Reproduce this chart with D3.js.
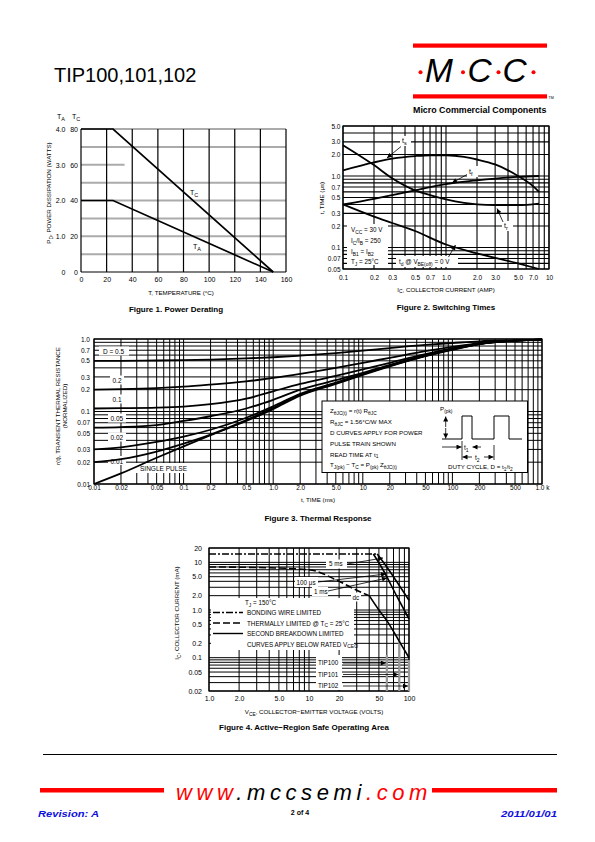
<!DOCTYPE html>
<html><head><meta charset="utf-8">
<script src="https://cdn.jsdelivr.net/npm/d3@7"></script>
<style>
body{margin:0;background:#fff}
svg{display:block}
text{font-family:"Liberation Sans",Arial,Helvetica,sans-serif}
</style>
</head><body>
<svg id="page" width="595" height="842" viewBox="0 0 595 842"></svg>
<script>
// ================= DATA =================
// Figure 1 – Power derating
const f1Temp = [0, 25, 150];
const f1PdTC = [80, 80, 0];      // watts, TC scale
const f1PdTA = [2.0, 2.0, 0];    // watts, TA scale
const f1XTicks = [0, 20, 40, 60, 80, 100, 120, 140, 160];
const f1YTicksTA = [0, 1, 2, 3, 4];
const f1YTicksTC = [0, 20, 40, 60, 80];
const f1HGrid = [0.5, 1.0, 1.5, 2.0, 2.5, 3.5, 4.0];

// Figure 2 – Switching times
const f2IcTs = [0.1, 0.2, 0.3, 0.5, 0.7, 1.0, 1.5, 2.0, 3.0, 5.0, 7.0, 8.0];
const f2Ts   = [1.2, 1.55, 1.75, 1.9, 1.95, 1.95, 1.85, 1.7, 1.45, 1.0, 0.72, 0.6];
const f2IcTr = [0.1, 0.2, 0.3, 0.5, 0.7, 1.0, 1.5, 2.0, 3.0, 5.0, 8.0];
const f2Tr   = [2.7, 1.42, 0.93, 0.63, 0.54, 0.47, 0.42, 0.4, 0.39, 0.39, 0.41];
const f2IcTf = [0.1, 0.2, 0.3, 0.5, 0.7, 1.0, 2.0, 3.0, 5.0, 8.0];
const f2Tf   = [0.4, 0.48, 0.54, 0.63, 0.7, 0.77, 0.87, 0.92, 0.97, 1.0];
const f2IcTd = [0.1, 0.2, 0.3, 0.5, 1.0, 2.0, 5.0, 8.0];
const f2Td   = [0.4, 0.27, 0.22, 0.17, 0.11, 0.083, 0.06, 0.05];
const f2XTicks = [0.1, 0.2, 0.3, 0.5, 0.7, 1, 2, 3, 5, 7, 10];
const f2XLabels = ["0.1","0.2","0.3","0.5","0.7","1.0","2.0","3.0","5.0","7.0","10"];
const f2YTicks = [0.05, 0.07, 0.1, 0.2, 0.3, 0.5, 0.7, 1, 2, 3, 5];
const f2YLabels = ["0.05","0.07","0.1","0.2","0.3","0.5","0.7","1.0","2.0","3.0","5.0"];

// Figure 3 – Thermal response
const f3Time = [0.01, 0.02, 0.05, 0.1, 0.2, 0.5, 1, 2, 5, 10, 20, 50, 100, 200, 500, 1000];
const f3D05  = [0.5, 0.5, 0.505, 0.51, 0.52, 0.54, 0.56, 0.59, 0.64, 0.69, 0.75, 0.83, 0.88, 0.93, 0.96, 0.98];
const f3D02  = [0.2, 0.203, 0.21, 0.22, 0.235, 0.26, 0.29, 0.33, 0.4, 0.47, 0.55, 0.68, 0.78, 0.88, 0.95, 0.98];
const f3D01  = [0.11, 0.111, 0.113, 0.117, 0.126, 0.15, 0.19, 0.24, 0.31, 0.38, 0.47, 0.62, 0.74, 0.86, 0.95, 0.98];
const f3D005 = [0.06, 0.061, 0.065, 0.074, 0.086, 0.11, 0.145, 0.2, 0.27, 0.34, 0.44, 0.6, 0.73, 0.86, 0.95, 0.98];
const f3D002 = [0.03, 0.032, 0.038, 0.045, 0.056, 0.082, 0.118, 0.175, 0.25, 0.33, 0.43, 0.59, 0.72, 0.85, 0.95, 0.98];
const f3D001 = [0.02, 0.022, 0.028, 0.036, 0.048, 0.076, 0.112, 0.17, 0.245, 0.325, 0.425, 0.585, 0.72, 0.85, 0.95, 0.98];
const f3Single = [0.01, 0.014, 0.023, 0.033, 0.047, 0.074, 0.108, 0.165, 0.24, 0.32, 0.42, 0.58, 0.71, 0.85, 0.95, 0.98];
const f3XTicks = [0.01, 0.02, 0.05, 0.1, 0.2, 0.5, 1, 2, 5, 10, 20, 50, 100, 200, 500, 1000];
const f3XLabels = ["0.01","0.02","0.05","0.1","0.2","0.5","1.0","2.0","5.0","10","20","50","100","200","500","1.0 k"];
const f3YTicks = [0.01, 0.02, 0.03, 0.05, 0.07, 0.1, 0.2, 0.3, 0.5, 0.7, 1];
const f3YLabels = ["0.01","0.02","0.03","0.05","0.07","0.1","0.2","0.3","0.5","0.7","1.0"];

// Figure 4 – Safe operating area
const f4BondV = [1, 48];            const f4BondI = [15, 15];
const f4Pulse100usV = [48, 60, 75, 100]; const f4Pulse100usI = [15, 8, 4, 1.6];
const f4Pulse1msV = [44, 55, 75, 100];   const f4Pulse1msI = [15, 7, 2, 0.65];
const f4ThermV = [1, 3, 10, 20, 30, 40];  const f4ThermI = [8, 7.8, 7, 4, 2.6, 2.0];
const f4DcV = [40, 50, 60, 80, 100];      const f4DcI = [2.0, 1.0, 0.6, 0.22, 0.1];
const f4Ratings = [60, 80, 100];
const f4RatingNames = ["TIP100", "TIP101", "TIP102"];
const f4XTicks = [1, 2, 5, 10, 20, 50, 100];
const f4XLabels = ["1.0","2.0","5.0","10","20","50","100"];
const f4YTicks = [0.02, 0.05, 0.1, 0.2, 0.5, 1, 2, 5, 10, 20];
const f4YLabels = ["0.02","0.05","0.1","0.2","0.5","1.0","2.0","5.0","10","20"];

// ================= HELPERS =================
const svg = d3.select("#page");
const RED = "#ff0000", BLUE = "#1010e0";

svg.append("defs").append("marker")
  .attr("id","arr").attr("viewBox","0 0 10 10").attr("refX",10).attr("refY",5)
  .attr("markerWidth",6).attr("markerHeight",5).attr("markerUnits","userSpaceOnUse")
  .attr("orient","auto-start-reverse")
  .append("path").attr("d","M0,0L10,5L0,10z").attr("fill","#000");

function txt(g, x, y, parts, o = {}) {
  const fs = o.size || 6.5;
  const t = g.append("text").attr("x", x).attr("y", y)
    .attr("font-size", fs).attr("text-anchor", o.anchor || "start")
    .attr("fill", o.fill || "#000").attr("font-weight", o.weight || "normal");
  if (o.style) t.attr("font-style", o.style);
  if (o.rotate) t.attr("transform", `rotate(${o.rotate},${x},${y})`);
  if (o.len) t.attr("textLength", o.len).attr("lengthAdjust", "spacingAndGlyphs");
  if (typeof parts === "string") { t.text(parts); return t; }
  let shift = 0;
  parts.forEach(p => {
    const [s, m] = Array.isArray(p) ? p : [p, null];
    const target = m === "sub" ? fs * 0.3 : m === "sup" ? -fs * 0.4 : 0;
    const ts = t.append("tspan").text(s).attr("dy", target - shift);
    if (m) ts.attr("font-size", fs * 0.78);
    shift = target;
  });
  return t;
}
function whiteBox(g, x, y, w, h) {
  g.append("rect").attr("x", x).attr("y", y).attr("width", w).attr("height", h).attr("fill", "#fff");
}
function logVals(lo, hi) {
  const out = [];
  for (let e = Math.floor(Math.log10(lo)) - 1; e <= Math.ceil(Math.log10(hi)); e++)
    for (let m = 1; m <= 9; m++) {
      const v = +(m * Math.pow(10, e)).toPrecision(6);
      if (v >= lo * 0.9999 && v <= hi * 1.0001) out.push(v);
    }
  return out;
}
function styleAxis(g, fs) {
  g.select(".domain").remove();
  g.attr("font-family", null).attr("font-size", null);
  g.selectAll("text").attr("font-size", fs).attr("fill", "#000");
}
function logGrid(g, x, y, sw = 1) {
  const [x0, x1] = x.range(), [y0, y1] = y.range();
  g.selectAll(null).data(logVals(...x.domain())).enter().append("line")
    .attr("x1", d => x(d)).attr("x2", d => x(d)).attr("y1", y0).attr("y2", y1)
    .attr("stroke", "#000").attr("stroke-width", sw);
  g.selectAll(null).data(logVals(...y.domain())).enter().append("line")
    .attr("y1", d => y(d)).attr("y2", d => y(d)).attr("x1", x0).attr("x2", x1)
    .attr("stroke", "#000").attr("stroke-width", sw);
}
function curve(g, xs, ys, x, y, sw = 1.8, dash = null) {
  const line = d3.line().x(d => x(d[0])).y(d => y(d[1])).curve(d3.curveMonotoneX);
  const p = g.append("path").attr("d", line(d3.zip(xs, ys)))
    .attr("fill", "none").attr("stroke", "#000").attr("stroke-width", sw);
  if (dash) p.attr("stroke-dasharray", dash);
  return p;
}
function arrow(g, x1, y1, x2, y2, sw = 0.8) {
  g.append("line").attr("x1", x1).attr("y1", y1).attr("x2", x2).attr("y2", y2)
    .attr("stroke", "#000").attr("stroke-width", sw).attr("marker-end", "url(#arr)");
}

// ================= HEADER =================
const hdr = svg.append("g");
txt(hdr, 54, 81.5, "TIP100,101,102", { size: 20 });
hdr.append("rect").attr("x", 413).attr("y", 43.5).attr("width", 134).attr("height", 4.2).attr("fill", RED);
hdr.append("rect").attr("x", 413).attr("y", 94.3).attr("width", 134).attr("height", 4.2).attr("fill", RED);
[["M", 425], ["C", 467.5], ["C", 502.5]].forEach(([c, x]) =>
  txt(hdr, x, 81.8, c, { size: 33.5, style: "italic" }));
[420.5, 463, 498.5, 533.5].forEach(x =>
  hdr.append("circle").attr("cx", x).attr("cy", 72.3).attr("r", 2).attr("fill", RED));
txt(hdr, 548.5, 98.5, "TM", { size: 3.6 });
txt(hdr, 413, 113, "Micro Commercial Components", { size: 9, weight: "bold", len: 133.5 });

// ================= FIGURE 1 =================
{
  const g = svg.append("g");
  const x = d3.scaleLinear().domain([0, 160]).range([81, 286]);
  const yA = d3.scaleLinear().domain([0, 4]).range([272, 129]);
  const yC = d3.scaleLinear().domain([0, 80]).range([272, 129]);
  g.selectAll(null).data(f1HGrid).enter().append("line")
    .attr("x1", x(0)).attr("x2", x(160)).attr("y1", d => yA(d)).attr("y2", d => yA(d))
    .attr("stroke", "#ababab").attr("stroke-width", 2);
  g.append("line").attr("x1", x(0)).attr("x2", x(34)).attr("y1", yA(3)).attr("y2", yA(3))
    .attr("stroke", "#ababab").attr("stroke-width", 2);
  g.selectAll(null).data(f1XTicks).enter().append("line")
    .attr("x1", d => x(d)).attr("x2", d => x(d)).attr("y1", yA(0)).attr("y2", yA(4))
    .attr("stroke", "#000").attr("stroke-width", 1.2);
  g.append("line").attr("x1", x(0)).attr("x2", x(160)).attr("y1", yA(0)).attr("y2", yA(0))
    .attr("stroke", "#000").attr("stroke-width", 1.2);
  g.append("path").attr("d", d3.line().x(d => x(d[0])).y(d => yC(d[1]))(d3.zip(f1Temp, f1PdTC)))
    .attr("fill", "none").attr("stroke", "#000").attr("stroke-width", 1.7);
  g.append("path").attr("d", d3.line().x(d => x(d[0])).y(d => yA(d[1]))(d3.zip(f1Temp, f1PdTA)))
    .attr("fill", "none").attr("stroke", "#000").attr("stroke-width", 1.7);
  txt(g, 190, 195, ["T", ["C", "sub"]], { size: 7 });
  txt(g, 193, 249, ["T", ["A", "sub"]], { size: 7 });
  const ax = g.append("g").attr("transform", "translate(0,272)")
    .call(d3.axisBottom(x).tickValues(f1XTicks).tickSize(0).tickPadding(5.5).tickFormat(d3.format("d")));
  styleAxis(ax, 7);
  const aA = g.append("g").attr("transform", "translate(65.5,0)")
    .call(d3.axisLeft(yA).tickValues(f1YTicksTA).tickSize(0).tickPadding(0).tickFormat(d => d === 0 ? "0" : d.toFixed(1)));
  styleAxis(aA, 7);
  const aC = g.append("g").attr("transform", "translate(78,0)")
    .call(d3.axisLeft(yC).tickValues(f1YTicksTC).tickSize(0).tickPadding(0).tickFormat(d3.format("d")));
  styleAxis(aC, 7);
  txt(g, 57, 119, ["T", ["A", "sub"]], { size: 7 });
  txt(g, 72, 119, ["T", ["C", "sub"]], { size: 7 });
  txt(g, 181, 294.5, "T, TEMPERATURE (°C)", { size: 6.2, anchor: "middle" });
  txt(g, 51, 193, ["P", ["D", "sub"], ", POWER DISSIPATION (WATTS)"], { size: 6.2, anchor: "middle", rotate: -90 });
  txt(g, 176, 312, "Figure 1. Power Derating", { size: 8, weight: "bold", anchor: "middle" });
}

// ================= FIGURE 2 =================
{
  const g = svg.append("g");
  const x = d3.scaleLog().domain([0.1, 10]).range([343, 549]);
  const y = d3.scaleLog().domain([0.05, 5]).range([269, 126]);
  logGrid(g, x, y, 1.1);
  g.append("rect").attr("x", 343).attr("y", 126).attr("width", 206).attr("height", 143)
    .attr("fill", "none").attr("stroke", "#000").attr("stroke-width", 1.2);
  whiteBox(g, 347, 224, 41, 41);
  whiteBox(g, 396, 256, 62, 11);
  whiteBox(g, 400, 136, 11, 10);
  whiteBox(g, 467, 166, 11, 11);
  whiteBox(g, 502, 221, 11, 10);
  curve(g, f2IcTs, f2Ts, x, y);
  curve(g, f2IcTr, f2Tr, x, y);
  curve(g, f2IcTf, f2Tf, x, y);
  curve(g, f2IcTd, f2Td, x, y);
  txt(g, 402, 143, ["t", ["s", "sub"]], { size: 7 });
  txt(g, 469, 173.5, ["t", ["f", "sub"]], { size: 7 });
  txt(g, 504, 227.5, ["t", ["r", "sub"]], { size: 7 });
  arrow(g, 401, 146.5, 387, 158);
  arrow(g, 467, 174.5, 452, 183);
  arrow(g, 503, 222, 497, 208.5);
  arrow(g, 448.5, 257, 455.5, 245);
  txt(g, 351, 232, ["V", ["CC", "sub"], " = 30 V"], { size: 6.3 });
  txt(g, 351, 243, ["I", ["C", "sub"], "/I", ["B", "sub"], " = 250"], { size: 6.3 });
  txt(g, 351, 254, ["I", ["B1", "sub"], " = I", ["B2", "sub"]], { size: 6.3 });
  txt(g, 351, 264, ["T", ["J", "sub"], " = 25°C"], { size: 6.3 });
  txt(g, 399, 264, ["t", ["d", "sub"], " @ V", ["BE(off)", "sub"], " = 0 V"], { size: 6.3 });
  const ax = g.append("g").attr("transform", "translate(0,269)")
    .call(d3.axisBottom(x).tickValues(f2XTicks).tickSize(0).tickPadding(6).tickFormat((d, i) => f2XLabels[i]));
  styleAxis(ax, 6.5);
  const ay = g.append("g").attr("transform", "translate(340.5,0)")
    .call(d3.axisLeft(y).tickValues(f2YTicks).tickSize(0).tickPadding(0).tickFormat((d, i) => f2YLabels[i]));
  styleAxis(ay, 6.5);
  txt(g, 446, 291.5, ["I", ["C", "sub"], ", COLLECTOR CURRENT (AMP)"], { size: 6.2, anchor: "middle" });
  txt(g, 324, 198, "t, TIME (μs)", { size: 6.2, anchor: "middle", rotate: -90 });
  txt(g, 446, 309.5, "Figure 2. Switching Times", { size: 8, weight: "bold", anchor: "middle" });
}

// ================= FIGURE 3 =================
{
  const g = svg.append("g");
  const x = d3.scaleLog().domain([0.01, 1000]).range([94, 542]);
  const y = d3.scaleLog().domain([0.01, 1]).range([484, 339]);
  logGrid(g, x, y, 1);
  g.append("rect").attr("x", 94).attr("y", 339).attr("width", 448).attr("height", 145)
    .attr("fill", "none").attr("stroke", "#000").attr("stroke-width", 1.2);
  whiteBox(g, 99, 346.5, 30, 9);
  whiteBox(g, 110, 375.5, 14, 9);
  whiteBox(g, 110, 394.5, 14, 9);
  whiteBox(g, 108, 413.5, 18, 9);
  whiteBox(g, 108, 432.5, 18, 9);
  whiteBox(g, 108, 456, 18, 9);
  whiteBox(g, 135, 463, 57, 10);
  [f3D05, f3D02, f3D01, f3D005, f3D002, f3D001, f3Single].forEach(s => curve(g, f3Time, s, x, y, 1.8));
  txt(g, 103, 354, "D = 0.5", { size: 6.5 });
  txt(g, 112.5, 383, "0.2", { size: 6.5 });
  txt(g, 112.5, 402, "0.1", { size: 6.5 });
  txt(g, 110.5, 421, "0.05", { size: 6.5 });
  txt(g, 110.5, 440, "0.02", { size: 6.5 });
  txt(g, 110.5, 463.5, "0.01", { size: 6.5 });
  txt(g, 140, 471, "SINGLE PULSE", { size: 6.5 });
  g.append("rect").attr("x", 322).attr("y", 401).attr("width", 205.5).attr("height", 71.5)
    .attr("fill", "#fff").attr("stroke", "#000").attr("stroke-width", 1);
  const fs = 6.2;
  txt(g, 330, 413, ["Z", ["θJC(t)", "sub"], " = r(t) R", ["θJC", "sub"]], { size: fs });
  txt(g, 330, 424, ["R", ["θJC", "sub"], " = 1.56°C/W MAX"], { size: fs });
  txt(g, 330, 434.5, "D CURVES APPLY FOR POWER", { size: fs });
  txt(g, 330, 445.5, "PULSE TRAIN SHOWN", { size: fs });
  txt(g, 330, 456.5, ["READ TIME AT t", ["1", "sub"]], { size: fs });
  txt(g, 330, 467, ["T", ["J(pk)", "sub"], " − T", ["C", "sub"], " = P", ["(pk)", "sub"], " Z", ["θJC(t)", "sub"]], { size: fs });
  txt(g, 440, 411, ["P", ["(pk)", "sub"]], { size: fs });
  g.append("path").attr("d", "M442,439H462V416H472V439H494V416H509V439H522")
    .attr("fill", "none").attr("stroke", "#000").attr("stroke-width", 1);
  arrow(g, 445.7, 427, 445.7, 416.5, 0.8);
  arrow(g, 445.7, 428, 445.7, 438.5, 0.8);
  arrow(g, 442, 447, 461.5, 447, 0.8);
  arrow(g, 481, 447, 472.5, 447, 0.8);
  g.append("line").attr("x1", 462).attr("x2", 462).attr("y1", 441).attr("y2", 460).attr("stroke", "#000").attr("stroke-width", 0.8);
  g.append("line").attr("x1", 494).attr("x2", 494).attr("y1", 445).attr("y2", 460).attr("stroke", "#000").attr("stroke-width", 0.8);
  txt(g, 464, 450, ["t", ["1", "sub"]], { size: 6.5 });
  arrow(g, 472, 457, 462.5, 457, 0.8);
  arrow(g, 484, 457, 493.5, 457, 0.8);
  txt(g, 475, 460, ["t", ["2", "sub"]], { size: 6.5 });
  txt(g, 448, 469, ["DUTY CYCLE, D = t", ["1", "sub"], "/t", ["2", "sub"]], { size: fs });
  const ax = g.append("g").attr("transform", "translate(0,484)")
    .call(d3.axisBottom(x).tickValues(f3XTicks).tickSize(0).tickPadding(1.2).tickFormat((d, i) => f3XLabels[i]));
  styleAxis(ax, 6.5);
  const ay = g.append("g").attr("transform", "translate(90,0)")
    .call(d3.axisLeft(y).tickValues(f3YTicks).tickSize(0).tickPadding(0).tickFormat((d, i) => f3YLabels[i]));
  styleAxis(ay, 6.5);
  txt(g, 318, 502, "t, TIME (ms)", { size: 6.2, anchor: "middle" });
  txt(g, 60, 406, "r(t), TRANSIENT THERMAL RESISTANCE", { size: 6.2, anchor: "middle", rotate: -90 });
  txt(g, 67, 406, "(NORMALIZED)", { size: 6.2, anchor: "middle", rotate: -90 });
  txt(g, 318, 521, "Figure 3. Thermal Response", { size: 8, weight: "bold", anchor: "middle" });
}

// ================= FIGURE 4 =================
{
  const g = svg.append("g");
  const x = d3.scaleLog().domain([1, 100]).range([209, 409]);
  const y = d3.scaleLog().domain([0.02, 20]).range([691, 548]);
  logGrid(g, x, y, 1);
  g.append("rect").attr("x", 209).attr("y", 548).attr("width", 200).attr("height", 143)
    .attr("fill", "none").attr("stroke", "#000").attr("stroke-width", 1.2);
  whiteBox(g, 211, 598, 143, 52);
  whiteBox(g, 326, 559.5, 21, 9);
  whiteBox(g, 295, 577, 23, 10);
  whiteBox(g, 312, 587, 16, 9);
  whiteBox(g, 351, 592.5, 10, 9);
  whiteBox(g, 316, 655, 26, 35);
  g.selectAll(null).data(f4Ratings).enter().append("line")
    .attr("x1", d => x(d)).attr("x2", d => x(d)).attr("y1", (d, i) => [655, 640, 660][i]).attr("y2", 691)
    .attr("stroke", "#999").attr("stroke-width", 2.2);
  curve(g, f4BondV, f4BondI, x, y, 1.6, "7,2,2,2");
  curve(g, f4ThermV, f4ThermI, x, y, 1.6, "7,3");
  curve(g, f4Pulse100usV, f4Pulse100usI, x, y, 1.6);
  curve(g, f4Pulse1msV, f4Pulse1msI, x, y, 1.6);
  curve(g, f4DcV, f4DcI, x, y, 1.6);
  txt(g, 329, 566, "5 ms", { size: 6.3 });
  txt(g, 296.5, 584.5, "100 μs", { size: 6.3 });
  txt(g, 314, 594, "1 ms", { size: 6.3 });
  txt(g, 352.5, 599.5, "dc", { size: 6.3 });
  arrow(g, 347, 564, 383, 558);
  arrow(g, 318, 582, 386, 574);
  arrow(g, 328, 591, 387, 578);
  txt(g, 245, 605, ["T", ["J", "sub"], " = 150°C"], { size: 6.3 });
  g.append("line").attr("x1", 213).attr("x2", 243).attr("y1", 612.5).attr("y2", 612.5)
    .attr("stroke", "#000").attr("stroke-width", 1.4).attr("stroke-dasharray", "7,2,2,2");
  g.append("line").attr("x1", 213).attr("x2", 243).attr("y1", 623).attr("y2", 623)
    .attr("stroke", "#000").attr("stroke-width", 1.4).attr("stroke-dasharray", "7,3");
  g.append("line").attr("x1", 213).attr("x2", 243).attr("y1", 633.5).attr("y2", 633.5)
    .attr("stroke", "#000").attr("stroke-width", 1.4);
  txt(g, 247, 615, "BONDING WIRE LIMITED", { size: 6.3 });
  txt(g, 247, 625.5, ["THERMALLY LIMITED @ T", ["C", "sub"], " = 25°C"], { size: 6.3 });
  txt(g, 247, 636, "SECOND BREAKDOWN LIMITED", { size: 6.3 });
  txt(g, 247, 646.5, ["CURVES APPLY BELOW RATED V", ["CEO", "sub"]], { size: 6.3 });
  f4RatingNames.forEach((n, i) => {
    const yy = [663, 674.5, 686][i];
    txt(g, 318, yy + 2, n, { size: 6.3 });
    arrow(g, 343, yy, x(f4Ratings[i]) - 1, yy, 0.8);
  });
  const ax = g.append("g").attr("transform", "translate(0,691)")
    .call(d3.axisBottom(x).tickValues(f4XTicks).tickSize(0).tickPadding(5.5).tickFormat((d, i) => f4XLabels[i]));
  styleAxis(ax, 7);
  const ay = g.append("g").attr("transform", "translate(202,0)")
    .call(d3.axisLeft(y).tickValues(f4YTicks).tickSize(0).tickPadding(0).tickFormat((d, i) => f4YLabels[i]));
  styleAxis(ay, 7);
  txt(g, 314, 714, ["V", ["CE", "sub"], ", COLLECTOR−EMITTER VOLTAGE (VOLTS)"], { size: 6.2, anchor: "middle" });
  txt(g, 179, 613, ["I", ["C", "sub"], ", COLLECTOR CURRENT (mA)"], { size: 6.2, anchor: "middle", rotate: -90 });
  txt(g, 304, 730, "Figure 4. Active−Region Safe Operating Area", { size: 8, weight: "bold", anchor: "middle" });
}

// ================= FOOTER =================
const ft = svg.append("g");
ft.append("line").attr("x1", 43).attr("x2", 557).attr("y1", 754.5).attr("y2", 754.5)
  .attr("stroke", "#000").attr("stroke-width", 1);
ft.append("rect").attr("x", 40).attr("y", 788).attr("width", 124).attr("height", 4.5).attr("fill", RED);
ft.append("rect").attr("x", 432).attr("y", 788).attr("width", 125).attr("height", 4.5).attr("fill", RED);
const w = txt(ft, 176, 799.5, "", { size: 22, style: "italic" }).attr("letter-spacing", 4.6);
w.append("tspan").text("www").attr("fill", RED);
w.append("tspan").text(".mccsemi").attr("fill", "#000");
w.append("tspan").text(".com").attr("fill", RED);
txt(ft, 38, 817, "Revision: A", { size: 9.5, weight: "bold", style: "italic", fill: BLUE, len: 61 });
txt(ft, 300, 815, "2 of 4", { size: 7, weight: "bold", anchor: "middle" });
txt(ft, 557, 817, "2011/01/01", { size: 9.5, weight: "bold", style: "italic", fill: BLUE, anchor: "end", len: 56 });
</script>
</body></html>
